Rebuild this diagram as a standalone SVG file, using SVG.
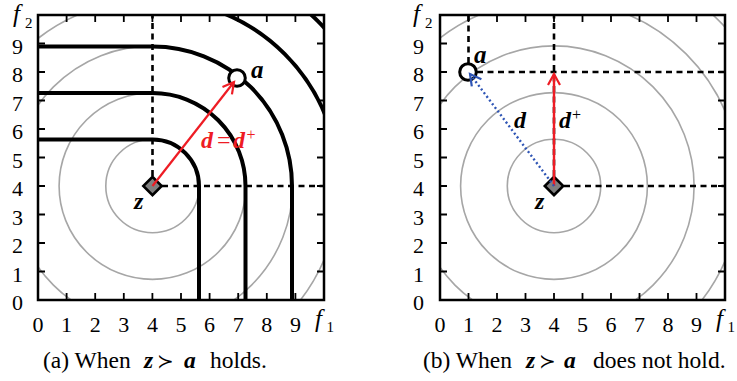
<svg xmlns="http://www.w3.org/2000/svg" width="737" height="381" viewBox="0 0 737 381">
<style>
.num{font-family:"Liberation Serif","Times New Roman","DejaVu Serif",serif;font-size:22px;fill:#000}
.cap{font-family:"Liberation Serif","Times New Roman","DejaVu Serif",serif;font-size:23.5px;fill:#000}
.mi{font-family:"Liberation Serif","Times New Roman","DejaVu Serif",serif;font-style:italic;font-weight:bold}
.rm{font-family:"Liberation Serif","Times New Roman","DejaVu Serif",serif}
.ax{font-family:"Liberation Serif","Times New Roman","DejaVu Serif",serif;font-style:italic;font-size:25px}
.sub{font-family:"Liberation Serif","Times New Roman","DejaVu Serif",serif;font-size:15px}
.gray{fill:none;stroke:#a6a6a6;stroke-width:1.6}
.blk{fill:none;stroke:#000;stroke-width:4}
.dash{fill:none;stroke:#000;stroke-width:2.6;stroke-dasharray:6 4.5}
.frame{fill:none;stroke:#000;stroke-width:2.5}
.tick{stroke:#000;stroke-width:1.8}
.zmark{fill:#808080;stroke:#000;stroke-width:2.6}
.amark{fill:#fff;stroke:#000;stroke-width:3}
</style>
<defs>
<clipPath id="clipA"><rect x="38" y="15" width="286" height="285"/></clipPath>
<clipPath id="clipB"><rect x="440" y="15" width="285" height="285"/></clipPath>
<marker id="hRed" markerUnits="userSpaceOnUse" markerWidth="14" markerHeight="14" refX="12" refY="7" orient="auto" overflow="visible">
<path d="M1,1 L12,7 L1,13" fill="none" stroke="#ee1c24" stroke-width="2.2"/>
</marker>
<marker id="hBlue" markerUnits="userSpaceOnUse" markerWidth="14" markerHeight="14" refX="12" refY="7" orient="auto" overflow="visible">
<path d="M1,1 L12,7 L1,13" fill="none" stroke="#2f55b5" stroke-width="2.2"/>
</marker>
</defs>

<!-- Plot (a) -->
<g id="plot-a">
<g clip-path="url(#clipA)">
<g id="a-circles">
<circle class="gray" cx="152.5" cy="186" r="46.7"/>
<circle class="gray" cx="152.5" cy="186" r="93.4"/>
<circle class="gray" cx="152.5" cy="186" r="140.1"/>
<circle class="gray" cx="152.5" cy="186" r="186.8"/>
<circle class="gray" cx="152.5" cy="186" r="233.5"/>
</g>
<g id="a-contours">
<path class="blk" d="M38,139.5 H152.5 A46.5,46.5 0 0 1 199,186 V300"/>
<path class="blk" d="M38,93 H152.5 A93,93 0 0 1 245.5,186 V300"/>
<path class="blk" d="M38,46.5 H152.5 A139.5,139.5 0 0 1 292,186 V300"/>
<path class="blk" d="M38,-0.8 H152.5 A186.8,186.8 0 0 1 339.3,186 V300"/>
<path class="blk" d="M38,-47.5 H152.5 A233.5,233.5 0 0 1 386,186 V300"/>
</g>
</g>
<rect class="frame" x="38" y="15" width="286" height="285"/>
<path class="tick" d="M66.6,300 v-7 M95.2,300 v-7 M123.8,300 v-7 M152.4,300 v-7 M181,300 v-7 M209.6,300 v-7 M238.2,300 v-7 M266.8,300 v-7 M295.4,300 v-7
M66.6,15 v7 M95.2,15 v7 M123.8,15 v7 M152.4,15 v7 M181,15 v7 M209.6,15 v7 M238.2,15 v7 M266.8,15 v7 M295.4,15 v7
M38,271.5 h7 M38,243 h7 M38,214.5 h7 M38,186 h7 M38,157.5 h7 M38,129 h7 M38,100.5 h7 M38,72 h7 M38,43.5 h7
M324,271.5 h-7 M324,243 h-7 M324,214.5 h-7 M324,186 h-7 M324,157.5 h-7 M324,129 h-7 M324,100.5 h-7 M324,72 h-7 M324,43.5 h-7"/>
<g class="num" text-anchor="end">
<text x="23" y="310">0</text><text x="23" y="281.5">1</text><text x="23" y="253">2</text><text x="23" y="224.5">3</text><text x="23" y="196">4</text>
<text x="23" y="167.5">5</text><text x="23" y="139">6</text><text x="23" y="110.5">7</text><text x="23" y="82">8</text><text x="23" y="53.5">9</text>
</g>
<g class="num" text-anchor="middle">
<text x="38" y="332">0</text><text x="66.6" y="332">1</text><text x="95.2" y="332">2</text><text x="123.8" y="332">3</text><text x="152.4" y="332">4</text>
<text x="181" y="332">5</text><text x="209.6" y="332">6</text><text x="238.2" y="332">7</text><text x="266.8" y="332">8</text><text x="295.4" y="332">9</text>
</g>
<text class="ax" x="13" y="22">f</text><text class="sub" x="25" y="28">2</text>
<text class="ax" x="315" y="327">f</text><text class="sub" x="326.5" y="332">1</text>
</g>

<!-- Plot (b) -->
<g id="plot-b">
<g clip-path="url(#clipB)">
<g id="b-circles">
<circle class="gray" cx="554" cy="186" r="46.7"/>
<circle class="gray" cx="554" cy="186" r="93.4"/>
<circle class="gray" cx="554" cy="186" r="140.1"/>
<circle class="gray" cx="554" cy="186" r="186.8"/>
<circle class="gray" cx="554" cy="186" r="233.5"/>
</g>
</g>
<rect class="frame" x="440" y="15" width="285" height="285"/>
<path class="tick" d="M468.5,300 v-7 M497,300 v-7 M525.5,300 v-7 M554,300 v-7 M582.5,300 v-7 M611,300 v-7 M639.5,300 v-7 M668,300 v-7 M696.5,300 v-7
M468.5,15 v7 M497,15 v7 M525.5,15 v7 M554,15 v7 M582.5,15 v7 M611,15 v7 M639.5,15 v7 M668,15 v7 M696.5,15 v7
M440,271.5 h7 M440,243 h7 M440,214.5 h7 M440,186 h7 M440,157.5 h7 M440,129 h7 M440,100.5 h7 M440,72 h7 M440,43.5 h7
M725,271.5 h-7 M725,243 h-7 M725,214.5 h-7 M725,186 h-7 M725,157.5 h-7 M725,129 h-7 M725,100.5 h-7 M725,72 h-7 M725,43.5 h-7"/>
<g class="num" text-anchor="end">
<text x="424" y="310">0</text><text x="424" y="281.5">1</text><text x="424" y="253">2</text><text x="424" y="224.5">3</text><text x="424" y="196">4</text>
<text x="424" y="167.5">5</text><text x="424" y="139">6</text><text x="424" y="110.5">7</text><text x="424" y="82">8</text><text x="424" y="53.5">9</text>
</g>
<g class="num" text-anchor="middle">
<text x="440" y="332">0</text><text x="468.5" y="332">1</text><text x="497" y="332">2</text><text x="525.5" y="332">3</text><text x="554" y="332">4</text>
<text x="582.5" y="332">5</text><text x="611" y="332">6</text><text x="639.5" y="332">7</text><text x="668" y="332">8</text><text x="696.5" y="332">9</text>
</g>
<text class="ax" x="413" y="22">f</text><text class="sub" x="425" y="28">2</text>
<text class="ax" x="716" y="327">f</text><text class="sub" x="727.5" y="332">1</text>
</g>

<!-- Dashed guide connectors -->
<g id="guides">
<path class="dash" d="M152.5,176 V15 M162,186 H324"/>
<path class="dash" d="M554,176 V15 M564,186 H725 M477,72 H725 M468.5,63 V15"/>
</g>

<!-- Nodes -->
<g id="node-z-a">
<rect class="zmark" x="146" y="179.5" width="13" height="13" transform="rotate(45 152.5 186)"/>
<text class="mi" x="134" y="209" font-size="24">z</text>
</g>
<g id="node-a-a">
<circle class="amark" cx="237" cy="78" r="8.3"/>
<text class="mi" x="251" y="78" font-size="25">a</text>
</g>
<g id="node-z-b">
<rect class="zmark" x="547.5" y="179.5" width="13" height="13" transform="rotate(45 554 186)"/>
<text class="mi" x="535" y="209" font-size="24">z</text>
</g>
<g id="node-a-b">
<circle class="amark" cx="468" cy="72" r="8.3"/>
<text class="mi" x="474" y="63" font-size="25">a</text>
</g>

<!-- Arrow connectors -->
<g id="connectors">
<line x1="152.5" y1="186" x2="234" y2="82" stroke="#ee1c24" stroke-width="2.2" marker-end="url(#hRed)"/>
<line x1="554" y1="186" x2="554" y2="74" stroke="#ee1c24" stroke-width="2.4" marker-end="url(#hRed)"/>
<line x1="554" y1="186" x2="470" y2="74" stroke="#2f55b5" stroke-width="2.4" stroke-dasharray="2 2.6" marker-end="url(#hBlue)"/>
</g>

<!-- Edge labels -->
<g id="labels">
<g fill="#ee1c24" font-size="24">
<text class="mi" x="201" y="148">d</text>
<text class="rm" x="217" y="148">=</text>
<text class="mi" x="233" y="148">d</text>
<text class="rm" x="246.5" y="140" font-size="16">+</text>
</g>
<text class="mi" x="514" y="128" font-size="24">d</text>
<text class="mi" x="559" y="128" font-size="24">d</text>
<text class="rm" x="572" y="120" font-size="16">+</text>
</g>

<!-- Captions -->
<g id="captions" class="cap">
<text x="43" y="368">(a) When</text>
<text class="mi" x="144" y="368">z</text>
<text x="157" y="368" font-family="DejaVu Sans,sans-serif" font-weight="normal" font-size="20">≻</text>
<text class="mi" x="184" y="368">a</text>
<text x="210" y="368">holds.</text>
<text x="423" y="368">(b) When</text>
<text class="mi" x="526" y="368">z</text>
<text x="539" y="368" font-family="DejaVu Sans,sans-serif" font-weight="normal" font-size="20">≻</text>
<text class="mi" x="564" y="368">a</text>
<text x="593" y="368">does not hold.</text>
</g>
</svg>
